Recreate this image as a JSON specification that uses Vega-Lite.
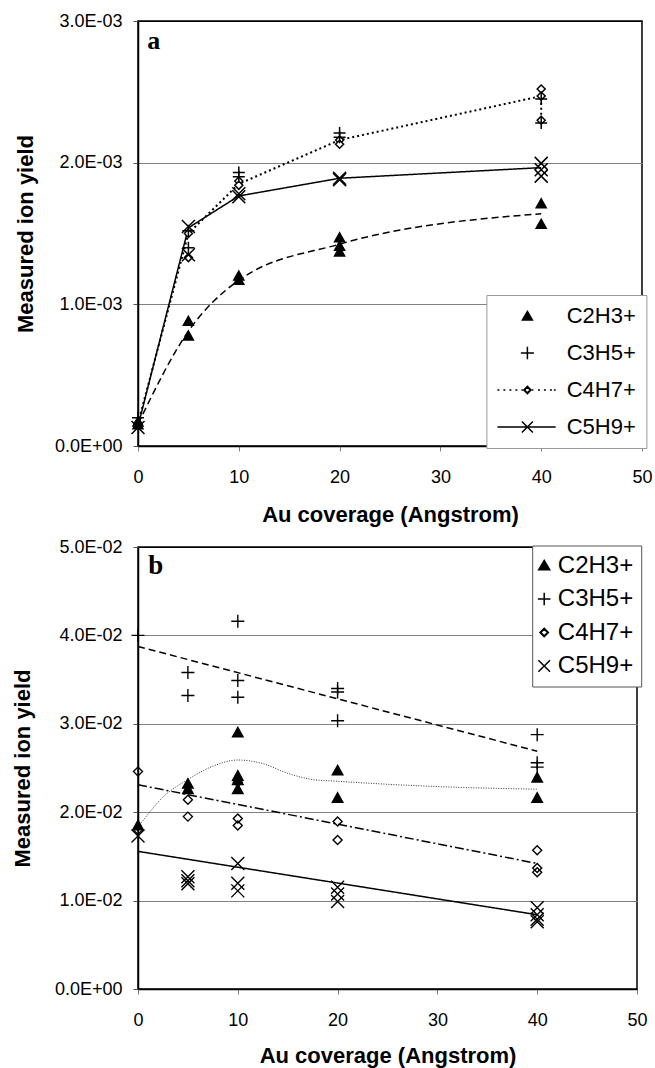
{
 "$schema": "https://vega.github.io/schema/vega-lite/v6.json",
 "padding": {"left": 10, "top": 11, "right": 5, "bottom": 2},
 "spacing": 10,
 "background": "white",
 "config": {
  "font": "Liberation Sans",
  "view": {"stroke": "black", "strokeWidth": 1.5},
  "axis": {
   "labelFont": "Liberation Sans", "labelFontSize": 18, "labelColor": "black",
   "titleFont": "Liberation Sans", "titleFontSize": 22, "titleFontWeight": "bold", "titleColor": "black",
   "domainColor": "black", "domainWidth": 1.5, "tickSize": 5, "tickWidth": 1, "labelFlush": false
  },
  "legend": {"labelFont": "Liberation Sans", "labelColor": "black"}
 },
 "resolve": {
  "scale": {"x": "independent", "y": "independent", "shape": "independent", "fill": "independent", "strokeDash": "independent", "strokeWidth": "independent"},
  "legend": {"shape": "independent"}
 },
 "datasets": {
  "a_pts": [
   {"series":"C4H7+","x":0,"y":0.000160},
   {"series":"C4H7+","x":5,"y":0.001500},
   {"series":"C4H7+","x":5,"y":0.001330},
   {"series":"C4H7+","x":10,"y":0.001870},
   {"series":"C4H7+","x":10,"y":0.001840},
   {"series":"C4H7+","x":20,"y":0.002160},
   {"series":"C4H7+","x":20,"y":0.002130},
   {"series":"C4H7+","x":40,"y":0.002520},
   {"series":"C4H7+","x":40,"y":0.002470},
   {"series":"C4H7+","x":40,"y":0.002300},
   {"series":"C2H3+","x":0,"y":0.000150},
   {"series":"C2H3+","x":0,"y":0.000170},
   {"series":"C2H3+","x":5,"y":0.000880},
   {"series":"C2H3+","x":5,"y":0.000776},
   {"series":"C2H3+","x":10,"y":0.001200},
   {"series":"C2H3+","x":10,"y":0.001170},
   {"series":"C2H3+","x":20,"y":0.001470},
   {"series":"C2H3+","x":20,"y":0.001410},
   {"series":"C2H3+","x":20,"y":0.001370},
   {"series":"C2H3+","x":40,"y":0.001710},
   {"series":"C2H3+","x":40,"y":0.001565},
   {"series":"C3H5+","x":0,"y":0.000200},
   {"series":"C3H5+","x":5,"y":0.001520},
   {"series":"C3H5+","x":5,"y":0.001400},
   {"series":"C3H5+","x":10,"y":0.001930},
   {"series":"C3H5+","x":10,"y":0.001900},
   {"series":"C3H5+","x":20,"y":0.002210},
   {"series":"C3H5+","x":20,"y":0.002180},
   {"series":"C3H5+","x":40,"y":0.002450},
   {"series":"C3H5+","x":40,"y":0.002280},
   {"series":"C5H9+","x":0,"y":0.000130},
   {"series":"C5H9+","x":5,"y":0.001550},
   {"series":"C5H9+","x":5,"y":0.001350},
   {"series":"C5H9+","x":10,"y":0.001780},
   {"series":"C5H9+","x":10,"y":0.001760},
   {"series":"C5H9+","x":20,"y":0.001890},
   {"series":"C5H9+","x":20,"y":0.001880},
   {"series":"C5H9+","x":40,"y":0.001995},
   {"series":"C5H9+","x":40,"y":0.001950},
   {"series":"C5H9+","x":40,"y":0.001905}
  ],
  "a_lines": [
   {"series":"C2H3+","i":0,"x":0,"y":0.000155},
   {"series":"C2H3+","i":1,"x":5,"y":0.000810},
   {"series":"C2H3+","i":2,"x":10,"y":0.001170},
   {"series":"C2H3+","i":3,"x":20,"y":0.001425},
   {"series":"C2H3+","i":4,"x":40,"y":0.001640},
   {"series":"C4H7+","i":0,"x":0,"y":0.000160},
   {"series":"C4H7+","i":1,"x":5,"y":0.001500},
   {"series":"C4H7+","i":2,"x":10,"y":0.001850},
   {"series":"C4H7+","i":3,"x":20,"y":0.002160},
   {"series":"C4H7+","i":4,"x":40,"y":0.002470},
   {"series":"C4H7+","i":5,"x":40,"y":0.002300},
   {"series":"C5H9+","i":0,"x":0,"y":0.000140},
   {"series":"C5H9+","i":1,"x":5,"y":0.001540},
   {"series":"C5H9+","i":2,"x":10,"y":0.001765},
   {"series":"C5H9+","i":3,"x":20,"y":0.001890},
   {"series":"C5H9+","i":4,"x":40,"y":0.001965}
  ],
  "b_pts": [
   {"series":"C4H7+","x":0,"y":0.0246},
   {"series":"C4H7+","x":0,"y":0.0180},
   {"series":"C4H7+","x":5,"y":0.0214},
   {"series":"C4H7+","x":5,"y":0.0195},
   {"series":"C4H7+","x":10,"y":0.0234},
   {"series":"C4H7+","x":10,"y":0.0193},
   {"series":"C4H7+","x":10,"y":0.0185},
   {"series":"C4H7+","x":20,"y":0.01895},
   {"series":"C4H7+","x":20,"y":0.01685},
   {"series":"C4H7+","x":40,"y":0.0157},
   {"series":"C4H7+","x":40,"y":0.0137},
   {"series":"C4H7+","x":40,"y":0.0132},
   {"series":"C2H3+","x":0,"y":0.0185},
   {"series":"C2H3+","x":5,"y":0.0232},
   {"series":"C2H3+","x":5,"y":0.0226},
   {"series":"C2H3+","x":10,"y":0.0290},
   {"series":"C2H3+","x":10,"y":0.0241},
   {"series":"C2H3+","x":10,"y":0.0236},
   {"series":"C2H3+","x":10,"y":0.0226},
   {"series":"C2H3+","x":20,"y":0.0247},
   {"series":"C2H3+","x":20,"y":0.0216},
   {"series":"C2H3+","x":40,"y":0.0239},
   {"series":"C2H3+","x":40,"y":0.0216},
   {"series":"C3H5+","x":0,"y":0.0400},
   {"series":"C3H5+","x":5,"y":0.0358},
   {"series":"C3H5+","x":5,"y":0.0332},
   {"series":"C3H5+","x":10,"y":0.0416},
   {"series":"C3H5+","x":10,"y":0.0349},
   {"series":"C3H5+","x":10,"y":0.0330},
   {"series":"C3H5+","x":20,"y":0.0340},
   {"series":"C3H5+","x":20,"y":0.0336},
   {"series":"C3H5+","x":20,"y":0.03035},
   {"series":"C3H5+","x":40,"y":0.02877},
   {"series":"C3H5+","x":40,"y":0.0256},
   {"series":"C3H5+","x":40,"y":0.0251},
   {"series":"C5H9+","x":0,"y":0.0173},
   {"series":"C5H9+","x":5,"y":0.0127},
   {"series":"C5H9+","x":5,"y":0.01225},
   {"series":"C5H9+","x":5,"y":0.0119},
   {"series":"C5H9+","x":10,"y":0.0142},
   {"series":"C5H9+","x":10,"y":0.01195},
   {"series":"C5H9+","x":10,"y":0.0111},
   {"series":"C5H9+","x":20,"y":0.0115},
   {"series":"C5H9+","x":20,"y":0.01075},
   {"series":"C5H9+","x":20,"y":0.0099},
   {"series":"C5H9+","x":40,"y":0.0092},
   {"series":"C5H9+","x":40,"y":0.0084},
   {"series":"C5H9+","x":40,"y":0.0079},
   {"series":"C5H9+","x":40,"y":0.0076}
  ],
  "b_lines": [
   {"series":"C3H5+","x":0,"y":0.03875},
   {"series":"C3H5+","x":40,"y":0.0269},
   {"series":"C4H7+","x":0,"y":0.0231},
   {"series":"C4H7+","x":40,"y":0.0142},
   {"series":"C5H9+","x":0,"y":0.01557},
   {"series":"C5H9+","x":40,"y":0.0084}
  ],
  "b_curve": [
   {"series":"C2H3+","x":0,"y":0.0183},
   {"series":"C2H3+","x":2.5,"y":0.0217},
   {"series":"C2H3+","x":5,"y":0.0237},
   {"series":"C2H3+","x":7.5,"y":0.0252},
   {"series":"C2H3+","x":10,"y":0.0259},
   {"series":"C2H3+","x":12.5,"y":0.0255},
   {"series":"C2H3+","x":15,"y":0.0244},
   {"series":"C2H3+","x":17.5,"y":0.0237},
   {"series":"C2H3+","x":20,"y":0.0235},
   {"series":"C2H3+","x":30,"y":0.0229},
   {"series":"C2H3+","x":40,"y":0.0226}
  ]
 },
 "vconcat": [
  {
   "width": 504,
   "height": 425,
   "layer": [
    {
     "encoding": {
      "x": {"field": "x", "type": "quantitative", "scale": {"domain": [0, 50], "nice": false},
       "axis": {"title": "Au coverage (Angstrom)", "values": [0, 10, 20, 30, 40, 50], "grid": false, "tickColor": "#808080", "labelPadding": 17, "titlePadding": 18.7}},
      "y": {"field": "y", "type": "quantitative", "scale": {"domain": [0, 0.003], "nice": false},
       "axis": {"title": "Measured ion yield", "values": [0, 0.001, 0.002, 0.003], "grid": true,
        "gridColor": {"condition": {"test": "datum.value === 0 || datum.value === 0.003", "value": "black"}, "value": "#808080"},
        "tickColor": "#555555", "labelPadding": 11, "titlePadding": 17,
        "labelExpr": "datum.value === 0 ? '0.0E+00' : format(datum.value * 1000, '.1f') + 'E-03'"}}
     },
     "resolve": {"scale": {"shape": "independent"}, "legend": {"shape": "independent"}},
     "layer": [
      {
       "data": {"name": "a_lines"},
       "transform": [{"filter": "datum.series === 'C2H3+'"}],
       "mark": {"type": "line", "interpolate": "monotone", "color": "black", "strokeWidth": 1.5, "strokeDash": [7, 4]},
       "encoding": {}
      },
      {
       "data": {"name": "a_lines"},
       "transform": [{"filter": "datum.series !== 'C2H3+'"}],
       "mark": {"type": "line", "color": "black"},
       "encoding": {
        "detail": {"field": "series", "type": "nominal"},
        "order": {"field": "i", "type": "quantitative"},
        "strokeDash": {"field": "series", "type": "nominal", "scale": {"domain": ["C4H7+", "C5H9+"], "range": [[2, 3], [1, 0]]}, "legend": null},
        "strokeWidth": {"field": "series", "type": "nominal", "scale": {"domain": ["C4H7+", "C5H9+"], "range": [2, 1.5]}, "legend": null}
       }
      },
      {
       "data": {"name": "a_pts"},
       "mark": {"type": "point", "filled": false, "stroke": "black", "strokeWidth": 1.5, "opacity": 1, "size": 100},
       "encoding": {
        "shape": {"field": "series", "type": "nominal",
         "scale": {"domain": ["C2H3+", "C3H5+", "C4H7+", "C5H9+"], "range": ["M0,-1L1,0.8L-1,0.8Z", "M-1.2,0L1.2,0M0,-1.2L0,1.2", "M0,-0.8L0.8,0L0,0.8L-0.8,0Z", "M-1.3,-1.3L1.3,1.3M-1.3,1.3L1.3,-1.3"]},
         "legend": null},
        "fill": {"field": "series", "type": "nominal", "scale": {"domain": ["C2H3+", "C3H5+", "C4H7+", "C5H9+"], "range": ["black", "transparent", "white", "transparent"]}, "legend": null}
       }
      },
      {
       "data": {"name": "a_pts"},
       "transform": [{"filter": "false"}],
       "mark": {"type": "point", "filled": false, "stroke": "black", "strokeWidth": 1.5, "opacity": 1, "size": 400},
       "encoding": {
        "shape": {"field": "series", "type": "nominal",
         "scale": {"domain": ["C2H3+", "C3H5+", "C4H7+", "C5H9+"], "range": [
          "M2,-0.45L2.5,0.4L1.5,0.4Z",
          "M1.35,0L2.65,0M2,-0.62L2,0.62",
          "M-1,0L-0.8,0M-0.4,0L-0.2,0M0.2,0L0.4,0M0.8,0L1,0M1.4,0L1.55,0M2,-0.36L2.36,0L2,0.36L1.64,0ZM2,-0.29L1.71,0L2,0.29L2.29,0ZM2.45,0L2.6,0M3.05,0L3.25,0M3.65,0L3.85,0M4.25,0L4.45,0M4.65,0L4.83,0",
          "M-1,0L4.83,0M1.45,-0.55L2.55,0.55M1.45,0.55L2.55,-0.55"]},
         "legend": {"title": null, "orient": "none", "direction": "vertical", "legendX": 348.4, "legendY": 274, "padding": 10,
          "fillColor": "white", "strokeColor": "#999999", "symbolSize": 400, "labelFontSize": 22, "labelOffset": 48.3, "rowPadding": 15}},
        "fill": {"field": "series", "type": "nominal", "scale": {"domain": ["C2H3+", "C3H5+", "C4H7+", "C5H9+"], "range": ["black", "transparent", "white", "transparent"]}, "legend": null}
       }
      }
     ]
    },
    {
     "data": {"values": [{"label": "a"}]},
     "mark": {"type": "text", "font": "Liberation Serif", "fontSize": 26, "fontWeight": "bold", "align": "left", "baseline": "alphabetic", "color": "black"},
     "encoding": {
      "x": {"datum": 0.93, "type": "quantitative", "scale": {"domain": [0, 50], "nice": false},
       "axis": {"title": "Au coverage (Angstrom)", "values": [0, 10, 20, 30, 40, 50], "grid": false, "tickColor": "#808080", "labelPadding": 17, "titlePadding": 18.7}},
      "y": {"datum": 0.0028, "type": "quantitative", "scale": {"domain": [0, 0.003], "nice": false},
       "axis": {"title": "Measured ion yield", "values": [0, 0.001, 0.002, 0.003], "grid": true,
        "gridColor": {"condition": {"test": "datum.value === 0 || datum.value === 0.003", "value": "black"}, "value": "#808080"},
        "tickColor": "#555555", "labelPadding": 11, "titlePadding": 17,
        "labelExpr": "datum.value === 0 ? '0.0E+00' : format(datum.value * 1000, '.1f') + 'E-03'"}},
      "text": {"field": "label", "type": "nominal"}
     }
    }
   ]
  },
  {
   "width": 499,
   "height": 442,
   "layer": [
    {
     "encoding": {
      "x": {"field": "x", "type": "quantitative", "scale": {"domain": [0, 50], "nice": false},
       "axis": {"title": "Au coverage (Angstrom)", "values": [0, 10, 20, 30, 40, 50], "grid": false, "tickColor": "#808080", "labelPadding": 17, "titlePadding": 16}},
      "y": {"field": "y", "type": "quantitative", "scale": {"domain": [0, 0.05], "nice": false},
       "axis": {"title": "Measured ion yield", "values": [0, 0.01, 0.02, 0.03, 0.04, 0.05], "grid": true,
        "gridColor": {"condition": {"test": "datum.value === 0 || datum.value === 0.05", "value": "black"}, "value": "#808080"},
        "tickColor": "#555555", "labelPadding": 11, "titlePadding": 20.2,
        "labelExpr": "datum.value === 0 ? '0.0E+00' : format(datum.value * 100, '.1f') + 'E-02'"}}
     },
     "resolve": {"scale": {"shape": "independent"}, "legend": {"shape": "independent"}},
     "layer": [
      {
       "data": {"name": "b_lines"},
       "mark": {"type": "line", "color": "black", "strokeWidth": 1.5},
       "encoding": {
        "detail": {"field": "series", "type": "nominal"},
        "strokeDash": {"field": "series", "type": "nominal", "scale": {"domain": ["C3H5+", "C4H7+", "C5H9+"], "range": [[7, 4], [9, 3, 2, 3], [1, 0]]}, "legend": null}
       }
      },
      {
       "data": {"name": "b_curve"},
       "mark": {"type": "line", "interpolate": "monotone", "color": "#333333", "strokeWidth": 1, "strokeDash": [1, 1.5]},
       "encoding": {}
      },
      {
       "data": {"name": "b_pts"},
       "mark": {"type": "point", "filled": false, "stroke": "black", "strokeWidth": 1.4, "opacity": 1, "size": 100},
       "encoding": {
        "shape": {"field": "series", "type": "nominal",
         "scale": {"domain": ["C2H3+", "C3H5+", "C4H7+", "C5H9+"], "range": ["M0,-1.05L1.05,0.85L-1.05,0.85Z", "M-1.3,0L1.3,0M0,-1.3L0,1.3", "M0,-0.9L0.9,0L0,0.9L-0.9,0Z", "M-1.3,-1.3L1.3,1.3M-1.3,1.3L1.3,-1.3"]},
         "legend": null},
        "fill": {"field": "series", "type": "nominal", "scale": {"domain": ["C2H3+", "C3H5+", "C4H7+", "C5H9+"], "range": ["black", "transparent", "transparent", "transparent"]}, "legend": null}
       }
      },
      {
       "data": {"name": "b_pts"},
       "transform": [{"filter": "false"}],
       "mark": {"type": "point", "filled": false, "stroke": "black", "strokeWidth": 1.4, "opacity": 1, "size": 400},
       "encoding": {
        "shape": {"field": "series", "type": "nominal",
         "scale": {"domain": ["C2H3+", "C3H5+", "C4H7+", "C5H9+"], "range": [
          "M-0.8,-0.5L-0.25,0.42L-1.35,0.42Z",
          "M-1.43,0L-0.17,0M-0.8,-0.63L-0.8,0.63",
          "M-0.8,-0.42L-0.38,0L-0.8,0.42L-1.22,0ZM-0.8,-0.34L-1.14,0L-0.8,0.34L-0.46,0Z",
          "M-1.38,-0.58L-0.22,0.58M-1.38,0.58L-0.22,-0.58"]},
         "legend": {"title": null, "orient": "none", "direction": "vertical", "legendX": 394.2, "legendY": -1.5, "padding": 8,
          "fillColor": "white", "strokeColor": "#555555", "symbolSize": 400, "labelFontSize": 24, "labelOffset": -6.4, "rowPadding": 9.5}},
        "fill": {"field": "series", "type": "nominal", "scale": {"domain": ["C2H3+", "C3H5+", "C4H7+", "C5H9+"], "range": ["black", "transparent", "transparent", "transparent"]}, "legend": null}
       }
      }
     ]
    },
    {
     "data": {"values": [{"label": "b"}]},
     "mark": {"type": "text", "font": "Liberation Serif", "fontSize": 27, "fontWeight": "bold", "align": "left", "baseline": "alphabetic", "color": "black"},
     "encoding": {
      "x": {"datum": 1.02, "type": "quantitative", "scale": {"domain": [0, 50], "nice": false},
       "axis": {"title": "Au coverage (Angstrom)", "values": [0, 10, 20, 30, 40, 50], "grid": false, "tickColor": "#808080", "labelPadding": 17, "titlePadding": 16}},
      "y": {"datum": 0.04698, "type": "quantitative", "scale": {"domain": [0, 0.05], "nice": false},
       "axis": {"title": "Measured ion yield", "values": [0, 0.01, 0.02, 0.03, 0.04, 0.05], "grid": true,
        "gridColor": {"condition": {"test": "datum.value === 0 || datum.value === 0.05", "value": "black"}, "value": "#808080"},
        "tickColor": "#555555", "labelPadding": 11, "titlePadding": 20.2,
        "labelExpr": "datum.value === 0 ? '0.0E+00' : format(datum.value * 100, '.1f') + 'E-02'"}},
      "text": {"field": "label", "type": "nominal"}
     }
    }
   ]
  }
 ]
}
